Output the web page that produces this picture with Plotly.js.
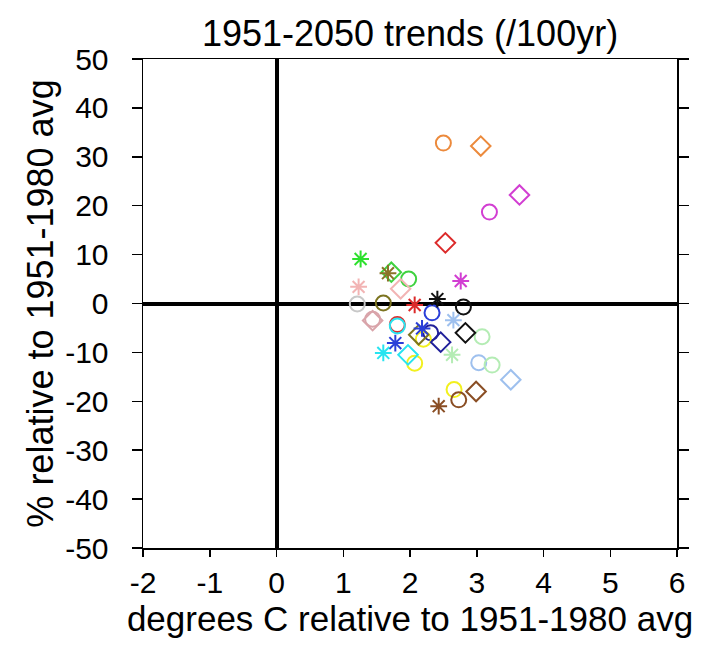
<!DOCTYPE html>
<html>
<head>
<meta charset="utf-8">
<script src="https://cdn.plot.ly/plotly-3.0.1.min.js"></script>
<style>html,body{margin:0;padding:0;background:#fff;}#chart{width:709px;height:646px;}</style>
</head>
<body>
<div id="chart"></div>
<script>
// ---- data ----
const circleX = [2.50, 3.19, 1.98, 1.21, 1.60, 2.80, 2.33, 1.44, 1.81, 1.81, 2.31, 2.20, 3.08, 2.07, 3.03, 3.23, 2.66, 2.73];
const circleY = [32.8, 18.7, 5.0, -0.1, 0.1, -0.7, -1.9, -3.2, -4.3, -4.6, -6.0, -7.3, -6.8, -12.2, -12.1, -12.6, -17.6, -19.7];

const diamondX = [3.06, 3.64, 2.53, 1.72, 1.86, 1.44, 2.13, 2.46, 2.83, 1.97, 3.51, 2.99];
const diamondY = [32.2, 22.2, 12.4, 6.4, 3.0, -3.5, -6.4, -7.9, -6.0, -10.5, -15.6, -18.0];

const asteriskX = [1.26, 1.67, 1.23, 2.76, 2.07, 2.41, 2.65, 2.18, 1.78, 1.60, 2.63, 2.43];
const asteriskY = [9.1, 6.2, 3.4, 4.6, -0.3, 0.9, -3.4, -5.1, -8.1, -10.1, -10.5, -21.0];

const xTicks = [-2, -1, 0, 1, 2, 3, 4, 5, 6];
const yTicks = [-50, -40, -30, -20, -10, 0, 10, 20, 30, 40, 50];

// ---- styles ----
const C = {
  orange: '#ec8a3c', magenta: '#d23ed2', red: '#dc2a2a', green: '#2ee02e',
  green2: '#3fd23f', olivebrown: '#8a7228', pink: '#f2b4b4', grey: '#c8c8c8',
  olive: '#7c7420', black: '#111111', blue: '#2a3ed8', navy: '#20209a',
  rosy: '#d9a4aa', cyan: '#28e4f0', sky: '#9ec0ee', yellow: '#f2f01e',
  lightgreen: '#b4ecb4', brown: '#8a4e24'
};
const circleColors = [C.orange, C.magenta, C.green2, C.grey, C.olive, C.black, C.blue, C.rosy, C.red, C.cyan,
  C.navy, C.yellow, C.lightgreen, C.yellow, C.sky, C.lightgreen, C.yellow, C.brown];
const diamondColors = [C.orange, C.magenta, C.red, C.green2, C.pink, C.rosy, C.olive, C.navy, C.black, C.cyan, C.sky, C.brown];
const asteriskColors = [C.green, C.olivebrown, C.pink, C.magenta, C.red, C.black, C.sky, C.blue, C.blue, C.cyan, C.lightgreen, C.brown];

const FONT = 'Liberation Sans, Arial, Helvetica, sans-serif';

const traces = [
  {x: circleX, y: circleY, type: 'scatter', mode: 'markers', name: 'circles',
   marker: {symbol: 'circle-open', size: 15, color: circleColors, line: {width: 2, color: circleColors}}},
  {x: diamondX, y: diamondY, type: 'scatter', mode: 'markers', name: 'diamonds',
   marker: {symbol: 'diamond-open', size: 15, color: diamondColors, line: {width: 2, color: diamondColors}}},
  {x: asteriskX, y: asteriskY, type: 'scatter', mode: 'markers', name: 'asterisks',
   marker: {symbol: 'asterisk-open', size: 14, color: asteriskColors, line: {width: 2, color: asteriskColors}}}
];

const layout = {
  width: 709, height: 646,
  margin: {l: 143, r: 32, t: 59, b: 98, pad: 0},
  paper_bgcolor: '#fff', plot_bgcolor: '#fff',
  showlegend: false,
  font: {family: FONT, color: '#000', size: 30},
  title: {text: '1951-2050 trends (/100yr)', font: {family: FONT, size: 36, color: '#000'},
          xref: 'paper', x: 0.5, xanchor: 'center', yref: 'container', y: 1 - 33/646, yanchor: 'middle'},
  xaxis: {
    range: [-2, 6], tickmode: 'array', tickvals: xTicks, ticktext: xTicks.map(String),
    showgrid: false, zeroline: true, zerolinecolor: '#000', zerolinewidth: 4,
    showline: true, linecolor: '#000', linewidth: 1.5, mirror: true,
    ticks: 'outside', ticklen: 7, tickwidth: 1.5, tickcolor: '#000',
    tickfont: {family: FONT, size: 30, color: '#000'},
    title: {text: 'degrees C relative to 1951-1980 avg', font: {family: FONT, size: 35, color: '#000'}, standoff: 3},
    fixedrange: true
  },
  yaxis: {
    range: [-50, 50], tickmode: 'array', tickvals: yTicks, ticktext: yTicks.map(String),
    showgrid: false, zeroline: true, zerolinecolor: '#000', zerolinewidth: 4,
    showline: true, linecolor: '#000', linewidth: 1.5, mirror: 'ticks',
    ticks: 'outside', ticklen: 10, tickwidth: 1.5, tickcolor: '#000',
    ticklabelstandoff: 17,
    tickfont: {family: FONT, size: 30, color: '#000'},
    title: {text: '% relative to 1951-1980 avg', font: {family: FONT, size: 36, color: '#000'}, standoff: 0},
    fixedrange: true
  }
};

Plotly.newPlot('chart', traces, layout, {displayModeBar: false, staticPlot: true});
</script>
</body>
</html>
